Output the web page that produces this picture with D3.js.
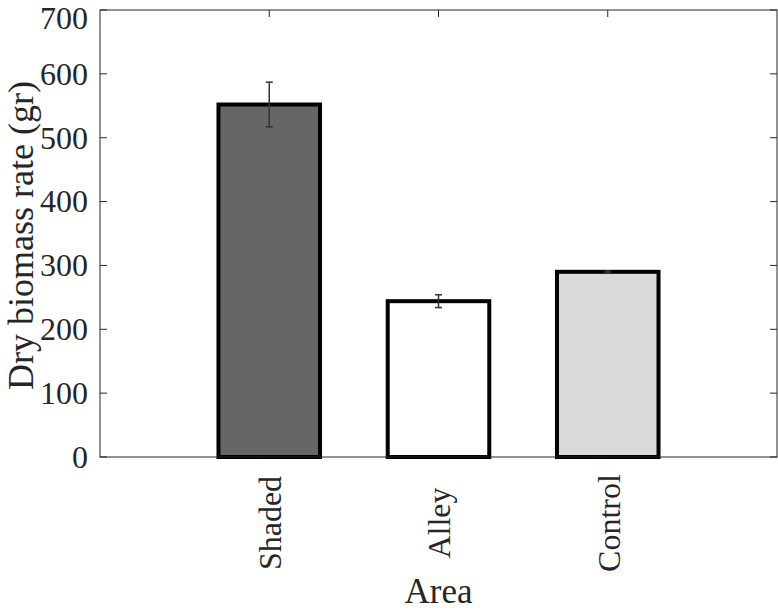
<!DOCTYPE html>
<html>
<head>
<meta charset="utf-8">
<script src="https://cdn.jsdelivr.net/npm/d3@7"></script>
<style>
  html, body { margin: 0; padding: 0; background: #fff; }
  svg { display: block; }
  text { font-family: "Liberation Serif", "Times New Roman", serif; fill: #262626; }
</style>
</head>
<body>
<script>
const categories = ["Shaded", "Alley", "Control"];
const values = [552, 244, 290];
const errors = [35, 10, 1.5];
const fills = ["#666666", "#ffffff", "#d9d9d9"];
const yTicks = [0, 100, 200, 300, 400, 500, 600, 700];
const xLabel = "Area";
const yLabel = "Dry biomass rate (gr)";

const W = 778, H = 610;
const m = { left: 100, right: 1, top: 10, bottom: 153 };
const pw = W - m.left - m.right, ph = H - m.top - m.bottom;

const svg = d3.select("body").append("svg").attr("width", W).attr("height", H);
const g = svg.append("g").attr("transform", `translate(${m.left},${m.top})`);

const x = d3.scaleLinear().domain([0, categories.length + 1]).range([0, pw]);
const y = d3.scaleLinear().domain([0, 700]).range([ph, 0]);
const barW = x(0.6) - x(0);
const axisColor = "#262626";

// bars
g.selectAll("rect.bar").data(categories).enter().append("rect")
  .attr("class", "bar")
  .attr("x", (d, i) => x(i + 1) - barW / 2)
  .attr("y", (d, i) => y(values[i]))
  .attr("width", barW)
  .attr("height", (d, i) => y(0) - y(values[i]))
  .attr("fill", (d, i) => fills[i])
  .attr("stroke", "#000")
  .attr("stroke-width", 4);

// error bars
const eb = g.selectAll("g.err").data(categories).enter().append("g").attr("class", "err")
  .attr("stroke", "#333").attr("stroke-width", 1.5);
eb.append("line")
  .attr("x1", (d, i) => x(i + 1)).attr("x2", (d, i) => x(i + 1))
  .attr("y1", (d, i) => y(values[i] + errors[i])).attr("y2", (d, i) => y(values[i] - errors[i]));
eb.append("line")
  .attr("x1", (d, i) => x(i + 1) - 3.5).attr("x2", (d, i) => x(i + 1) + 3.5)
  .attr("y1", (d, i) => y(values[i] + errors[i])).attr("y2", (d, i) => y(values[i] + errors[i]));
eb.append("line")
  .attr("x1", (d, i) => x(i + 1) - 3.5).attr("x2", (d, i) => x(i + 1) + 3.5)
  .attr("y1", (d, i) => y(values[i] - errors[i])).attr("y2", (d, i) => y(values[i] - errors[i]));

// box
g.append("rect").attr("x", 0).attr("y", 0).attr("width", pw).attr("height", ph)
  .attr("fill", "none").attr("stroke", axisColor).attr("stroke-width", 1);

// y ticks (left and right, inward)
const tl = 7;
g.selectAll("line.yt").data(yTicks).enter().append("line")
  .attr("x1", 0).attr("x2", tl).attr("y1", d => y(d)).attr("y2", d => y(d))
  .attr("stroke", axisColor);
g.selectAll("line.yt2").data(yTicks).enter().append("line")
  .attr("x1", pw - tl).attr("x2", pw).attr("y1", d => y(d)).attr("y2", d => y(d))
  .attr("stroke", axisColor);
g.selectAll("text.yl").data(yTicks).enter().append("text")
  .attr("x", -12).attr("y", d => y(d)).attr("dy", d => d === 700 ? "0.58em" : "0.34em")
  .attr("text-anchor", "end").attr("font-size", 32).text(d => d);

// x ticks top (inward)
g.selectAll("line.xt").data(categories).enter().append("line")
  .attr("x1", (d, i) => x(i + 1)).attr("x2", (d, i) => x(i + 1))
  .attr("y1", 0).attr("y2", tl).attr("stroke", axisColor);
g.selectAll("text.xl").data(categories).enter().append("text")
  .attr("transform", (d, i) => `translate(${x(i + 1) + 1},${ph + 66}) rotate(-90)`)
  .attr("dy", "0.34em").attr("text-anchor", "middle").attr("font-size", 32).text(d => d);

// axis labels
svg.append("text").attr("x", m.left + pw / 2).attr("y", 603)
  .attr("text-anchor", "middle").attr("font-size", 35).text(xLabel);
svg.append("text").attr("transform", `translate(33,${m.top + ph / 2 + 2}) rotate(-90)`)
  .attr("text-anchor", "middle").attr("font-size", 36).text(yLabel);
</script>
</body>
</html>
